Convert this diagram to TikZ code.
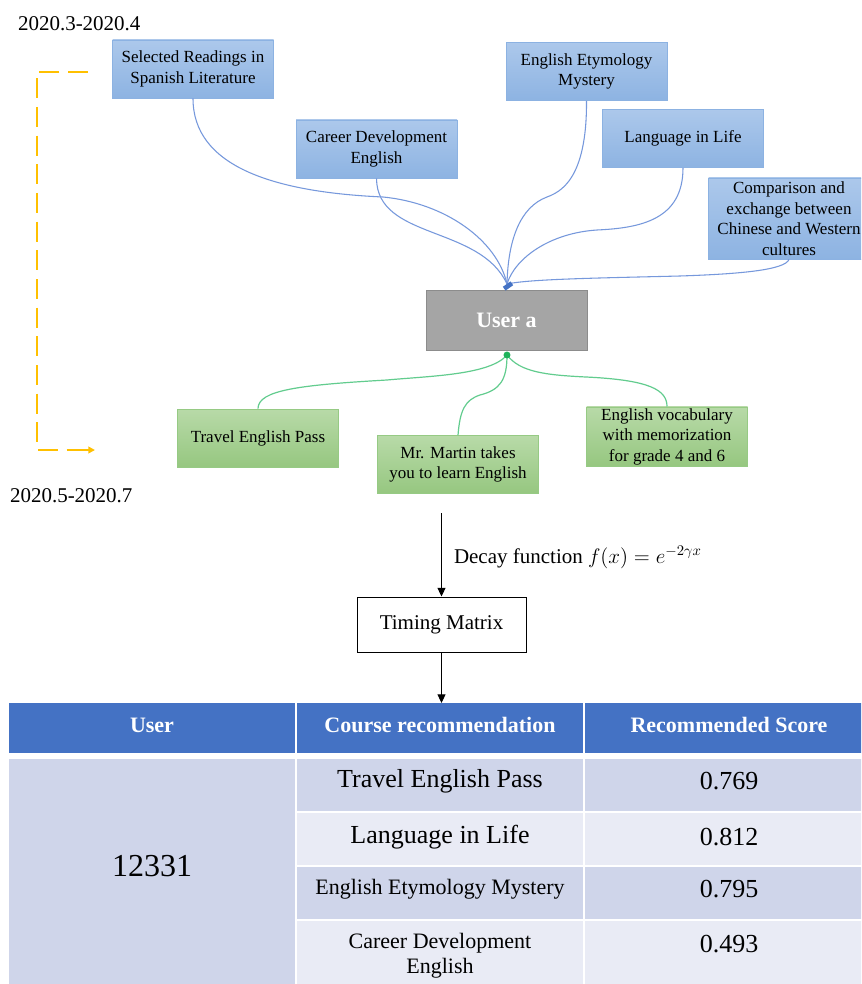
\RequirePackage{fix-cm}
\documentclass[tikz,border=0pt]{standalone}
\usepackage{fontspec}
\IfFontExistsTF{LiberationSerif-Regular.ttf}{%
  \setmainfont{LiberationSerif-Regular.ttf}[BoldFont=LiberationSerif-Bold.ttf,
    ItalicFont=LiberationSerif-Italic.ttf, BoldItalicFont=LiberationSerif-BoldItalic.ttf]%
}{%
  \setmainfont{Liberation Serif}%
}
\usetikzlibrary{arrows.meta,calc}

% palette
\definecolor{bluetop}{RGB}{172,200,235}
\definecolor{bluebot}{RGB}{141,179,226}
\definecolor{blueedge}{RGB}{140,178,226}
\definecolor{bluelink}{RGB}{118,152,220}
\definecolor{hubblue}{RGB}{68,114,196}
\definecolor{greentop}{RGB}{184,218,168}
\definecolor{greenbot}{RGB}{150,199,128}
\definecolor{greenedge}{RGB}{150,202,132}
\definecolor{greenlink}{RGB}{98,204,142}
\definecolor{hubgreen}{RGB}{30,178,90}
\definecolor{usergray}{RGB}{165,165,165}
\definecolor{useredge}{RGB}{140,140,140}
\definecolor{periodline}{RGB}{255,192,0}
\definecolor{headblue}{RGB}{68,114,196}
\definecolor{rowdark}{RGB}{207,213,234}
\definecolor{rowlight}{RGB}{233,235,245}

% font sizes (1 unit = 0.75pt)
\newcommand{\boxfont}{\fontsize{12.75pt}{15.4pt}\selectfont}
\newcommand{\datefont}{\fontsize{15.75pt}{18pt}\selectfont}
\newcommand{\userfont}{\fontsize{16.5pt}{19pt}\selectfont\bfseries}
\newcommand{\flowfont}{\fontsize{15.75pt}{18pt}\selectfont}
\newcommand{\headfont}{\fontsize{16.5pt}{19pt}\selectfont\bfseries}
\newcommand{\cellfont}{\fontsize{19.5pt}{22pt}\selectfont}
\newcommand{\smallcellfont}{\fontsize{16.5pt}{18.75pt}\selectfont}
\newcommand{\idfont}{\fontsize{24pt}{28pt}\selectfont}

\begin{document}
\begin{tikzpicture}[x=0.75pt,y=-0.75pt,
  bluebox/.style={rectangle, draw=blueedge, line width=0.6pt,
    top color=bluetop, bottom color=bluebot,
    minimum width=120.75pt, minimum height=43.5pt,
    align=center, inner sep=1pt, font=\boxfont},
  greenbox/.style={rectangle, draw=greenedge, line width=0.6pt,
    top color=greentop, bottom color=greenbot,
    minimum width=120.75pt, minimum height=43.5pt,
    align=center, inner sep=1pt, font=\boxfont},
  bluelinkstyle/.style={draw=bluelink, line width=0.8pt},
  greenlinkstyle/.style={draw=greenlink, line width=0.9pt},
  period/.style={draw=periodline, line width=1.5pt, dash pattern=on 15pt off 6.5pt},
  flowarrow/.style={draw=black, line width=0.75pt, -{Triangle[length=6.5pt,width=6pt]}},
  plain/.style={inner sep=0pt, outer sep=0pt},
  cell/.style={rectangle, inner sep=0pt, outer sep=0pt, draw=none}
]
\clip (0,0) rectangle (861,984);
\fill[white] (0,0) rectangle (861,984);

% period labels and the dashed period arrow
\node[plain, anchor=base west, font=\datefont] (dateA) at (18,30.5) {2020.3-2020.4};
\node[plain, anchor=base west, font=\datefont] (dateB) at (10,502) {2020.5-2020.7};
\coordinate (pStart) at (88,72);
\coordinate (pCornerA) at (37,72);
\coordinate (pCornerB) at (37,450);
\coordinate (pEnd) at (95,450);
\draw[period] (pStart) -- (pCornerA) -- (pCornerB) -- ($(pEnd)+(-6,0)$);
\draw[draw=periodline, line width=1.5pt, -{Triangle[length=5pt,width=5pt]}] ($(pEnd)+(-8,0)$) -- (pEnd);

% earlier courses
\node[bluebox] (b1) at (193,69) {Selected Readings in\\Spanish Literature};
\node[bluebox] (b2) at (376.5,149) {Career Development\\English};
\node[bluebox] (b3) at (586.5,71.5) {English Etymology\\Mystery};
\node[bluebox] (b4) at (683,138.5) {Language in Life};
\node[bluebox, minimum height=60.75pt] (b5) at (789,218.5) {Comparison and\\exchange between\\Chinese and Western\\cultures};

% user
\node[rectangle, fill=usergray, draw=useredge, line width=0.6pt,
  minimum width=120.75pt, minimum height=45pt, font=\userfont, text=white] (user) at (506.5,320) {User a};
\coordinate (hub) at (507,284);
\coordinate (ghub) at (507,355);

% later courses
\node[greenbox] (g1) at (258,438) {Travel English Pass};
\node[greenbox] (g2) at (458,464.5) {Mr. Martin takes\\you to learn English};
\node[greenbox] (g3) at (667,436.5) {English vocabulary\\with memorization\\for grade 4 and 6};

% links of the earlier courses
\draw[bluelinkstyle] (b1.south) .. controls (193,165) and (270,192) .. (383,197)
  .. controls (445,203) and (497,240) .. (hub);
\draw[bluelinkstyle] (b2.south) .. controls (377,240) and (480,225) .. (hub);
\draw[bluelinkstyle] (b3.south) .. controls (587,180) and (560,192) .. (547,197)
  .. controls (520,207) and (508,240) .. (hub);
\draw[bluelinkstyle] (b4.south) .. controls (683,220) and (640,228) .. (597,230)
  .. controls (550,233) and (515,258) .. (hub);
\draw[bluelinkstyle] (b5.south) .. controls (785,270) and (740,274) .. (680,276)
  .. controls (600,278) and (530,279) .. (hub);
\node[rectangle, fill=hubblue, rotate=35, minimum width=7pt, minimum height=3.5pt, inner sep=0pt] (hubmark) at (508,286) {};

% links of the later courses
\draw[greenlinkstyle] (ghub) .. controls (490,375) and (430,376) .. (387,380)
  .. controls (300,385) and (258,390) .. (g1.north);
\draw[greenlinkstyle] (ghub) .. controls (507,380) and (500,390) .. (480,395)
  .. controls (465,400) and (460,410) .. (g2.north);
\draw[greenlinkstyle] (ghub) .. controls (520,372) and (545,375) .. (586,377)
  .. controls (650,380) and (667,390) .. (g3.north);
\fill[hubgreen] (ghub) circle (2.6pt);

% decay step
\coordinate (flowTop) at (441.5,513);
\node[rectangle, draw=black, line width=0.75pt, fill=white,
  minimum width=126.75pt, minimum height=41.25pt, font=\flowfont] (tm) at (441.5,624.5) {Timing Matrix};
\draw[flowarrow] (flowTop) -- (tm.north);
\node[plain, anchor=base west, font=\flowfont] (decay) at (454,563) {Decay function $f(x)=e^{-2\gamma x}$};

% recommendation table: header
\node[cell, fill=headblue, minimum width=214.5pt, minimum height=37.5pt] (h1) at (152,728) {};
\node[cell, fill=headblue, minimum width=214.5pt, minimum height=37.5pt] (h2) at (440,728) {};
\node[cell, fill=headblue, minimum width=216pt, minimum height=37.5pt] (h3) at (729,728) {};
\node[plain, font=\headfont, text=white] (h1t) at (152,725) {User};
\node[plain, font=\headfont, text=white] (h2t) at (440,725) {Course recommendation};
\node[plain, font=\headfont, text=white] (h3t) at (729,725) {Recommended Score};
\draw[flowarrow] (tm.south) -- (tm.south |- h2.north);

% recommendation table: body
\node[cell, fill=rowdark, minimum width=214.5pt, minimum height=177pt] (uc) at (152,877) {};
\node[cell, fill=rowdark, minimum width=214.5pt, minimum height=39pt] (c1) at (440,785) {};
\node[cell, fill=rowlight, minimum width=214.5pt, minimum height=39pt] (c2) at (440,839) {};
\node[cell, fill=rowdark, minimum width=214.5pt, minimum height=39pt] (c3) at (440,893) {};
\node[cell, fill=rowlight, minimum width=214.5pt, minimum height=55.5pt] (c4) at (440,958) {};
\node[cell, fill=rowdark, minimum width=216pt, minimum height=39pt] (s1) at (729,785) {};
\node[cell, fill=rowlight, minimum width=216pt, minimum height=39pt] (s2) at (729,839) {};
\node[cell, fill=rowdark, minimum width=216pt, minimum height=39pt] (s3) at (729,893) {};
\node[cell, fill=rowlight, minimum width=216pt, minimum height=55.5pt] (s4) at (729,958) {};

\node[plain, font=\idfont] (uid) at (152,866) {12331};
\node[plain, font=\cellfont] (c1t) at (440,781) {Travel English Pass};
\node[plain, font=\cellfont] (c2t) at (440,837) {Language in Life};
\node[plain, font=\smallcellfont] (c3t) at (440,889) {English Etymology Mystery};
\node[plain, font=\smallcellfont, align=center] (c4t) at (440,956) {Career Development\\English};
\node[plain, font=\cellfont] (s1t) at (729,781) {0.769};
\node[plain, font=\cellfont] (s2t) at (729,837) {0.812};
\node[plain, font=\cellfont] (s3t) at (729,889) {0.795};
\node[plain, font=\cellfont] (s4t) at (729,944) {0.493};
\end{tikzpicture}
\end{document}
